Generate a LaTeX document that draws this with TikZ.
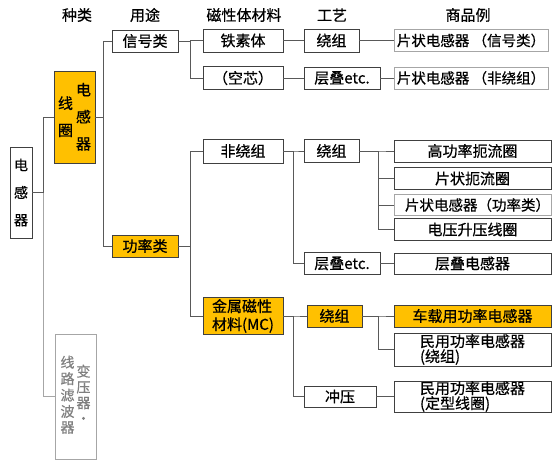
\documentclass[tikz,border=0pt]{standalone}
\usepackage{fontspec}
\setmainfont{Noto Sans CJK SC}[FakeBold=0.6]
\usepackage{xcolor}
\definecolor{boxorange}{HTML}{FFC000}
\definecolor{linegray}{HTML}{595959}
\definecolor{edgegray}{HTML}{404040}
\definecolor{palegray}{HTML}{A6A6A6}
\definecolor{textgray}{HTML}{808080}

\begin{document}
\begin{tikzpicture}[x=1pt,y=-1pt,
  box/.style={draw=edgegray,line width=0.9pt,inner sep=0pt,font=\fontsize{15}{17}\selectfont},
  hot/.style={box,fill=boxorange},
  pale/.style={box,draw=palegray},
  head/.style={font=\fontsize{15}{17}\selectfont},
  link/.style={draw=linegray,line width=0.9pt}]
\useasboundingbox (0,0) rectangle (558,462);
\node[head] (hkind) at (77,15) {种类};
\node[head] (huse) at (145,15) {用途};
\node[head] (hmat) at (244,15) {磁性体材料};
\node[head] (hproc) at (332,15) {工艺};
\node[head] (hprod) at (468,15) {商品例};

\node[box,minimum width=22,minimum height=91,align=center,font=\fontsize{14}{27.5}\selectfont] (dgq) at (21,192.5) {电\\感\\器};
\node[hot,minimum width=41,minimum height=92,font=\fontsize{15}{27}\selectfont] (xq) at (74.5,117) {\begin{tabular}{@{}c@{}}线\\圈\end{tabular}\hspace{3pt}\begin{tabular}{@{}c@{}}电\\感\\器\end{tabular}\hspace{5pt}};
\node[pale,minimum width=41,minimum height=125,text=textgray,font=\fontsize{14}{15.5}\selectfont] (byq) at (75.5,396.5) {\begin{tabular}{@{}c@{}}线\\路\\滤\\波\\器\end{tabular}\hspace{2pt}\begin{tabular}{@{}c@{}}变\\压\\器\\・\end{tabular}};

\node[box,minimum width=66,minimum height=22] (xinhao) at (145,41) {信号类};
\node[hot,minimum width=66,minimum height=22] (gonglv) at (145,246) {功率类};

\node[box,minimum width=80,minimum height=23] (tiesu) at (243,40.5) {铁素体};
\node[box,minimum width=80,minimum height=23] (kongxin) at (243,78) {（空芯）};
\node[box,minimum width=80,minimum height=24] (feirao) at (243,151) {非绕组};
\node[hot,minimum width=80,minimum height=37,align=left,font=\fontsize{15}{18}\selectfont] (jinshu) at (243,316) {金属磁性\\材料(MC)};

\node[box,minimum width=55,minimum height=23] (raozuA) at (331.5,40.5) {绕组};
\node[box,minimum width=76,minimum height=22] (cengA) at (342,78) {层叠etc.};
\node[box,minimum width=55,minimum height=23] (raozuB) at (331.5,151) {绕组};
\node[box,minimum width=76,minimum height=22] (cengB) at (342,263.5) {层叠etc.};
\node[hot,minimum width=55,minimum height=22] (raozuC) at (334.5,316) {绕组};
\node[box,minimum width=72,minimum height=21] (chongya) at (340,396.5) {冲压};

\node[pale,minimum width=154,minimum height=22,font=\fontsize{14.5}{17}\selectfont] (pzxh) at (471,40.5) {片状电感器 （信号类）};
\node[pale,minimum width=154,minimum height=22,font=\fontsize{14.5}{17}\selectfont] (pzfr) at (471,78) {片状电感器 （非绕组）};
\node[box,minimum width=157,minimum height=22] (gglq) at (472.5,151) {高功率扼流圈};
\node[box,minimum width=157,minimum height=22] (pzlq) at (472.5,178.5) {片状扼流圈};
\node[pale,minimum width=157,minimum height=21,font=\fontsize{14.5}{17}\selectfont] (pzgl) at (472.5,205) {\hspace{10pt}片状电感器（功率类）};
\node[box,minimum width=157,minimum height=22] (dysy) at (472.5,229.5) {电压升压线圈};
\node[box,minimum width=157,minimum height=21] (cddg) at (472.5,263.5) {层叠电感器};
\node[hot,minimum width=157,minimum height=22] (czgl) at (472.5,316) {车载用功率电感器};
\node[box,minimum width=157,minimum height=33,align=left,font=\fontsize{15}{15}\selectfont] (mygA) at (472.5,349.5) {民用功率电感器\\(绕组)};
\node[box,minimum width=157,minimum height=31,align=left,font=\fontsize{15}{15}\selectfont] (mygB) at (472.5,396.5) {民用功率电感器\\(定型线圈)};

\draw[link,draw=palegray] (dgq.east) -- ++(11,0) |- (byq.west);
\draw[link] (dgq.east) -- ++(11,0) |- (xq.west);
\foreach \a/\b/\d in {xq/xinhao/8,xq/gonglv/8,xinhao/tiesu/12,xinhao/kongxin/12,
  gonglv/feirao/12,gonglv/jinshu/12,feirao/raozuB/10,feirao/cengB/10,
  jinshu/raozuC/10,jinshu/chongya/10,raozuB/gglq/19,raozuB/pzlq/19,
  raozuB/pzgl/19,raozuB/dysy/19,raozuC/czgl/16,raozuC/mygA/16}
  \draw[link] (\a.east) -- ++(\d,0) |- (\b.west);
\foreach \a/\b in {tiesu/raozuA,kongxin/cengA,raozuA/pzxh,cengA/pzfr,cengB/cddg,chongya/mygB}
  \draw[link] (\a.east) -- (\b.west);
\end{tikzpicture}
\end{document}
